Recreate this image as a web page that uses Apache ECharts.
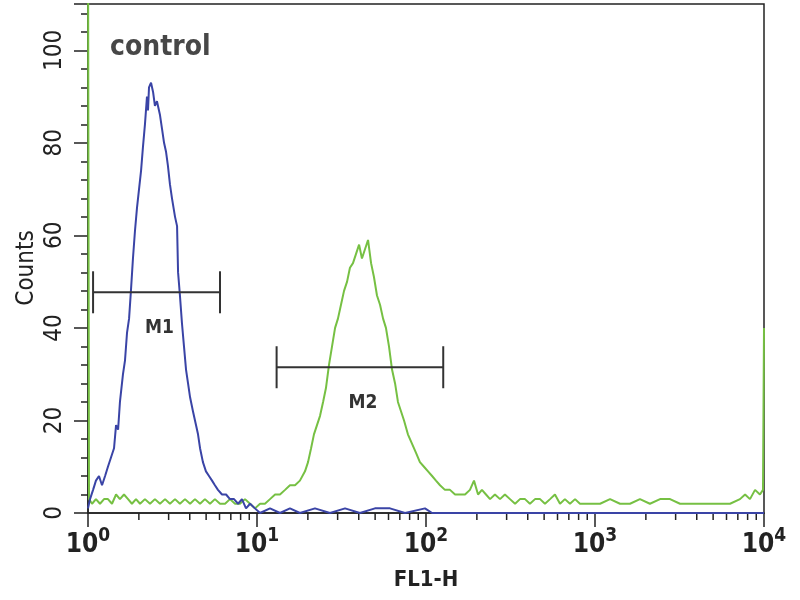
<!DOCTYPE html>
<html>
<head>
<meta charset="utf-8">
<script src="https://cdn.jsdelivr.net/npm/echarts@6/dist/echarts.min.js"></script>
<style>
  html, body { margin: 0; padding: 0; background: #fff; }
  #chart { width: 800px; height: 600px; }
</style>
</head>
<body>
<div id="chart"></div>
<script>
// x values are in decades, i.e. log10(FL1-H); y values are counts
var controlX = [0.000, 0.012, 0.030, 0.047, 0.065, 0.083, 0.101, 0.118, 0.136, 0.154,
  0.166, 0.178, 0.189, 0.207, 0.219, 0.231, 0.243, 0.254, 0.266, 0.278,
  0.290, 0.302, 0.314, 0.325, 0.337, 0.349, 0.355, 0.361, 0.373, 0.385,
  0.396, 0.408, 0.426, 0.438, 0.450, 0.462, 0.473, 0.485, 0.497, 0.515,
  0.527, 0.533, 0.544, 0.556, 0.568, 0.580, 0.592, 0.604, 0.621, 0.639,
  0.651, 0.663, 0.680, 0.698, 0.716, 0.734, 0.751, 0.769, 0.793, 0.817,
  0.840, 0.864, 0.888, 0.911, 0.935, 0.959, 0.988, 1.018, 1.077, 1.136,
  1.195, 1.254, 1.343, 1.432, 1.521, 1.609, 1.698, 1.787, 1.876, 1.994,
  2.036, 4.000];
var controlY = [1, 3, 5, 7, 8, 6, 8, 10, 12, 14,
  19, 18, 24, 30, 33, 39, 42, 48, 55, 61,
  66, 70, 74, 79, 84, 90, 87, 92, 93, 91,
  88, 89, 86, 83, 80, 78, 75, 71, 68, 64,
  62, 52, 47, 41, 36, 31, 28, 25, 22, 19,
  17, 14, 11, 9, 8, 7, 6, 5, 4, 4,
  3, 3, 2, 3, 1, 2, 1, 0, 1, 0,
  1, 0, 1, 0, 1, 0, 1, 1, 0, 1,
  0, 0];

var sampleX = [0.000, 0.006, 0.024, 0.047, 0.071, 0.095, 0.118, 0.142, 0.166, 0.189,
  0.213, 0.237, 0.260, 0.284, 0.308, 0.337, 0.367, 0.396, 0.426, 0.456,
  0.485, 0.515, 0.544, 0.574, 0.604, 0.633, 0.663, 0.692, 0.722, 0.751,
  0.781, 0.811, 0.840, 0.870, 0.899, 0.929, 0.959, 0.988, 1.018, 1.047,
  1.077, 1.107, 1.136, 1.166, 1.195, 1.225, 1.254, 1.284, 1.302, 1.320,
  1.337, 1.355, 1.373, 1.391, 1.408, 1.426, 1.444, 1.462, 1.479, 1.497,
  1.515, 1.533, 1.550, 1.568, 1.586, 1.604, 1.621, 1.639, 1.657, 1.675,
  1.692, 1.710, 1.728, 1.746, 1.763, 1.781, 1.799, 1.817, 1.834, 1.852,
  1.870, 1.893, 1.917, 1.941, 1.964, 1.988, 2.012, 2.036, 2.059, 2.083,
  2.112, 2.142, 2.172, 2.201, 2.231, 2.260, 2.284, 2.308, 2.331, 2.355,
  2.379, 2.408, 2.438, 2.467, 2.497, 2.527, 2.556, 2.586, 2.615, 2.645,
  2.675, 2.704, 2.734, 2.763, 2.793, 2.822, 2.852, 2.882, 2.911, 2.970,
  3.030, 3.089, 3.148, 3.207, 3.266, 3.325, 3.385, 3.444, 3.503, 3.562,
  3.621, 3.680, 3.740, 3.799, 3.858, 3.888, 3.917, 3.947, 3.976, 3.994,
  4.000];
var sampleY = [130, 3, 2, 3, 2, 3, 3, 2, 4, 3,
  4, 3, 2, 3, 2, 3, 2, 3, 2, 3,
  2, 3, 2, 3, 2, 3, 2, 3, 2, 3,
  2, 2, 3, 2, 2, 3, 2, 1, 2, 2,
  3, 4, 4, 5, 6, 6, 7, 9, 11, 14,
  17, 19, 21, 24, 27, 32, 36, 40, 42, 45,
  48, 50, 53, 54, 56, 58, 55, 57, 59, 54,
  51, 47, 45, 42, 40, 36, 31, 28, 24, 22,
  20, 17, 15, 13, 11, 10, 9, 8, 7, 6,
  5, 5, 4, 4, 4, 5, 7, 4, 5, 4,
  3, 4, 3, 4, 3, 2, 3, 3, 2, 3,
  3, 2, 3, 4, 2, 3, 2, 3, 2, 2,
  2, 3, 2, 2, 3, 2, 3, 3, 2, 2,
  2, 2, 2, 2, 3, 4, 3, 5, 4, 5,
  40];

var decades = [0, 1, 2, 3, 4];
var minorFactors = [2, 3, 4, 5, 6, 7, 8, 9];

var gateNames = ['M1', 'M2'];
var gateLo = [0.030, 1.116];
var gateHi = [0.781, 2.102];
var gateLevel = [47.7, 31.5];

var FONT = '"Liberation Sans Narrow", "DejaVu Sans Condensed", "Liberation Sans", Arial, sans-serif';

function zip(xs, ys) {
  return xs.map(function (x, i) { return [x, ys[i]]; });
}

var minorTicks = [];
decades.slice(0, -1).forEach(function (d) {
  minorFactors.forEach(function (f) { minorTicks.push([d + Math.log10(f)]); });
});

var gates = gateNames.map(function (n, i) { return [gateLo[i], gateHi[i], gateLevel[i], i]; });

var chart = echarts.init(document.getElementById('chart'));

var option = {
  animation: false,
  backgroundColor: '#fff',
  grid: {
    left: 88, right: 36, top: 4, bottom: 87,
    show: true, borderColor: '#222', borderWidth: 1.5
  },
  graphic: [
    {
      type: 'text', left: 110, top: 34,
      style: { text: 'control', font: 'bold 28px ' + FONT, fill: '#474747' }
    },
    {
      type: 'text', x: 27, y: 268, rotation: Math.PI / 2,
      style: { text: 'Counts', font: '24px ' + FONT, fill: '#222', align: 'center', verticalAlign: 'middle' }
    }
  ],
  xAxis: {
    type: 'value', min: 0, max: 4, interval: 1,
    name: 'FL1-H', nameLocation: 'middle', nameGap: 56,
    nameTextStyle: { fontFamily: FONT, fontSize: 22, fontWeight: 'bold', color: '#222' },
    axisLine: { lineStyle: { color: '#222', width: 1.5 } },
    axisTick: { length: 14, lineStyle: { color: '#222', width: 1.5 } },
    splitLine: { show: false },
    axisLabel: {
      margin: 14,
      formatter: function (v) { return '{b|10}{s|' + v + '}'; },
      rich: {
        b: { fontFamily: FONT, fontSize: 26, fontWeight: 'bold', color: '#222' },
        s: { fontFamily: FONT, fontSize: 19, fontWeight: 'bold', color: '#222', padding: [0, 0, 18, 0] }
      }
    }
  },
  yAxis: {
    type: 'value', min: 0, max: 110, interval: 20,
    axisLine: { show: true, lineStyle: { color: '#222', width: 1.5 } },
    axisTick: { show: true, length: 14, lineStyle: { color: '#222', width: 1.5 } },
    minorTick: { show: true, splitNumber: 5, length: 7, lineStyle: { color: '#222', width: 1.5 } },
    splitLine: { show: false },
    axisLabel: {
      rotate: 90, margin: 21, showMaxLabel: false,
      fontFamily: FONT, fontSize: 24, color: '#222'
    }
  },
  series: [
    {
      name: 'sample', type: 'line', data: zip(sampleX, sampleY),
      showSymbol: false, symbol: 'none', clip: true,
      lineStyle: { color: '#76c043', width: 2 }, z: 3
    },
    {
      name: 'control', type: 'line', data: zip(controlX, controlY),
      showSymbol: false, symbol: 'none', clip: true,
      lineStyle: { color: '#3a44a6', width: 2 }, z: 4
    },
    {
      name: 'xMinorTicks', type: 'custom', data: minorTicks, clip: false, silent: true,
      renderItem: function (params, api) {
        var p = api.coord([api.value(0), 0]);
        return {
          type: 'line',
          shape: { x1: p[0], y1: p[1], x2: p[0], y2: p[1] + 7 },
          style: { stroke: '#222', lineWidth: 1.5 }
        };
      }
    },
    {
      name: 'gates', type: 'custom', data: gates, clip: false, silent: true, z: 5,
      renderItem: function (params, api) {
        var a = api.coord([api.value(0), api.value(2)]);
        var b = api.coord([api.value(1), api.value(2)]);
        var st = { stroke: '#333', lineWidth: 2 };
        return {
          type: 'group',
          children: [
            { type: 'line', shape: { x1: a[0], y1: a[1], x2: b[0], y2: b[1] }, style: st },
            { type: 'line', shape: { x1: a[0], y1: a[1] - 21, x2: a[0], y2: a[1] + 21 }, style: st },
            { type: 'line', shape: { x1: b[0], y1: b[1] - 21, x2: b[0], y2: b[1] + 21 }, style: st },
            {
              type: 'text',
              style: {
                text: gateNames[api.value(3)], x: (a[0] + b[0]) / 2 + 3, y: a[1] + 36,
                align: 'center', verticalAlign: 'middle',
                font: 'bold 19px ' + FONT, fill: '#333'
              }
            }
          ]
        };
      }
    }
  ]
};

chart.setOption(option);
</script>
</body>
</html>
